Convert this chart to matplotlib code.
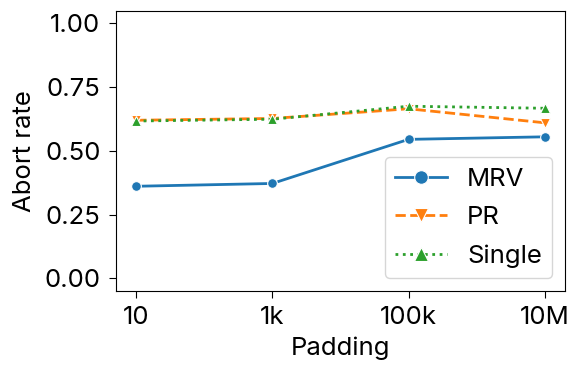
import matplotlib
matplotlib.use("Agg")
import numpy as np
from matplotlib import pyplot as plt

plt.rcParams['font.family'] = ['Inter', 'DejaVu Sans']
plt.rcParams['font.size'] = 18.5

padding = [10, 1e3, 1e5, 1e7]
pad_labels = ['10', '1k', '100k', '10M']
mrv = [0.361, 0.372, 0.545, 0.555]
pr = [0.620, 0.627, 0.665, 0.610]
single = [0.617, 0.624, 0.675, 0.667]

fig, ax = plt.subplots(figsize=(5.82, 3.67), dpi=100)
ax.plot(padding, mrv, '-', marker='o', color='#1f77b4', lw=2, ms=7,
        markeredgecolor='white', markeredgewidth=0.8, label='MRV')
ax.plot(padding, pr, '--', marker='v', color='#ff7f0e', lw=2, ms=7,
        markeredgecolor='white', markeredgewidth=0.8, label='PR')
ax.plot(padding, single, ':', marker='^', color='#2ca02c', lw=2, ms=7,
        markeredgecolor='white', markeredgewidth=0.8, label='Single')

ax.set_xscale('log')
ax.minorticks_off()
ax.set_xticks(padding)
ax.set_xticklabels(pad_labels)
ax.set_ylim(-0.05, 1.05)
ax.set_yticks([0, 0.25, 0.5, 0.75, 1.0])
ax.tick_params(length=5, pad=6)
ax.set_xlabel('Padding', labelpad=5)
ax.set_ylabel('Abort rate', labelpad=6)
ax.legend(loc='lower right', markerscale=1.4, labelspacing=0.6)

fig.subplots_adjust(left=0.199, right=0.971, bottom=0.207, top=0.971)
fig.savefig('out.png')
